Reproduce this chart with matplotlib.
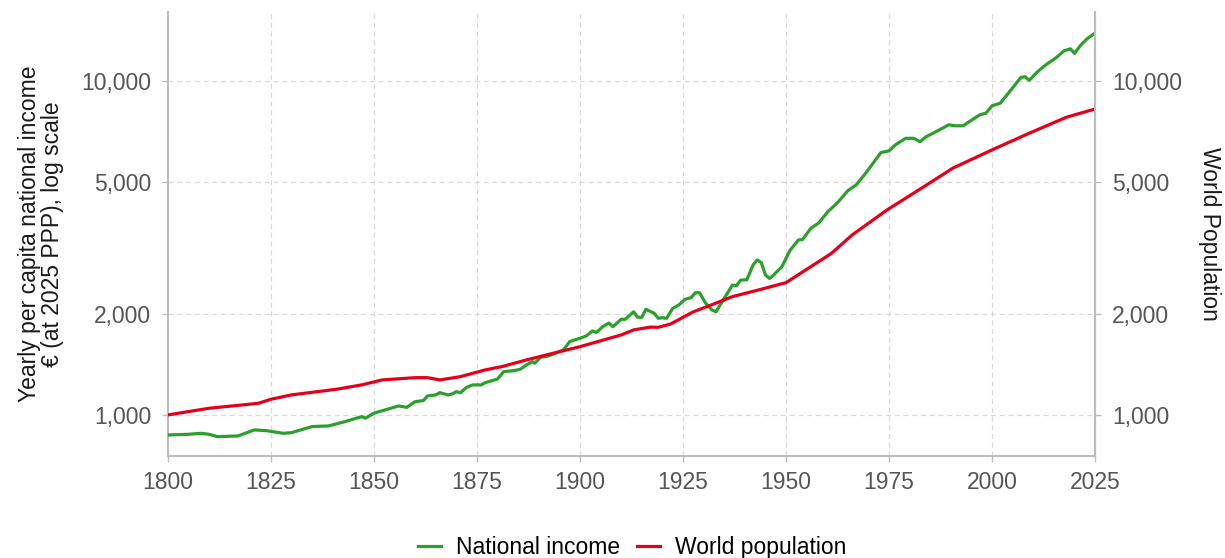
import matplotlib
matplotlib.use("Agg")
import matplotlib.pyplot as plt
from matplotlib.ticker import FuncFormatter, FixedLocator, NullLocator

plt.rcParams['font.family'] = ['Liberation Sans', 'DejaVu Sans']

# national income per capita, euro at 2025 PPP
income_years = [1800, 1805, 1808, 1810, 1812, 1817, 1821, 1824, 1828, 1830, 1835, 1839,
                1843, 1847, 1848, 1850, 1856, 1858, 1860, 1862, 1863, 1865, 1866, 1868,
                1869, 1870, 1871, 1872.5, 1874, 1876, 1877, 1880, 1881.5, 1884, 1885.5,
                1887, 1888.5, 1889, 1890.5, 1892, 1894, 1896, 1897.5, 1900, 1901.5, 1903,
                1904, 1905.5, 1907, 1908, 1910, 1911, 1913, 1914, 1915, 1916, 1918, 1919,
                1920, 1921, 1922.5, 1924, 1925.5, 1927, 1928, 1929, 1930.5, 1932, 1933,
                1935, 1937, 1938, 1939, 1940.5, 1942, 1943, 1944, 1945, 1946, 1947, 1949,
                1951, 1953, 1954, 1956, 1958, 1960, 1962.5, 1965, 1967, 1969, 1971, 1973,
                1975, 1976.5, 1979, 1981, 1982.5, 1984, 1986.5, 1989.5, 1991, 1993, 1994.5,
                1997, 1998.5, 2000, 2002, 2003, 2005, 2007, 2008, 2009, 2011, 2013, 2015.5,
                2017.5, 2019, 2020, 2021.5, 2023, 2025]
income = [871, 875, 881, 875, 861, 865, 902, 897, 881, 885, 923, 927,
          955, 988, 978, 1012, 1064, 1054, 1096, 1104, 1140, 1148, 1166, 1148,
          1156, 1174, 1166, 1210, 1230, 1230, 1249, 1281, 1348, 1357, 1370,
          1411, 1444, 1428, 1489, 1496, 1530, 1565, 1658, 1697, 1723, 1784,
          1766, 1837, 1885, 1837, 1934, 1934, 2036, 1962, 1960, 2071, 2016, 1947,
          1955, 1947, 2085, 2135, 2220, 2246, 2322, 2322, 2160, 2063, 2036,
          2236, 2449, 2440, 2534, 2540, 2812, 2912, 2859, 2625, 2563, 2625, 2780,
          3116, 3342, 3350, 3619, 3764, 4043, 4323, 4694, 4882, 5235, 5647, 6103,
          6176, 6435, 6734, 6734, 6578, 6812, 7060, 7394, 7342, 7342, 7561,
          7918, 8010, 8427, 8586, 8894, 9548, 10250, 10300, 10043, 10650, 11170, 11730,
          12320, 12480, 12100, 12800, 13360, 13930]

# world population, millions
pop_years = [1800, 1810, 1818, 1822, 1825, 1830, 1841, 1847, 1852, 1860, 1863, 1866,
             1871, 1877, 1881, 1887, 1893.5, 1900, 1910, 1913, 1917, 1919, 1922,
             1927.5, 1932.5, 1937, 1944, 1950, 1953.5, 1961, 1966, 1974.5, 1982.5,
             1990.5, 2000, 2009, 2018, 2025]
population = [1000, 1047, 1071, 1084, 1114, 1148, 1194, 1230, 1273, 1293, 1293, 1273,
              1302, 1364, 1395, 1461, 1530, 1601, 1736, 1797, 1832, 1830, 1872,
              2036, 2150, 2261, 2379, 2490, 2655, 3045, 3455, 4110, 4742,
              5485, 6220, 6975, 7786, 8245]

y_ticks = [1000, 2000, 5000, 10000]
x_ticks = [1800, 1825, 1850, 1875, 1900, 1925, 1950, 1975, 2000, 2025]

green = '#2ca02c'
red = '#e4001b'
grid_c = '#d9d9d9'
spine_c = '#bdbdbd'
tick_c = '#555555'
fs = 16.5

fig = plt.figure(figsize=(12.25, 5.58), dpi=100)
ax = fig.add_axes([0.137, 0.183, 0.757, 0.7955])

l1, = ax.plot(income_years, income, color=green, lw=2.3, label='National income', zorder=3)
l2, = ax.plot(pop_years, population, color=red, lw=2.3, label='World population', zorder=3)

ylo, yhi = 754, 16090
ax.set_yscale('log')
ax.set_ylim(ylo, yhi)
ax.set_xlim(1800, 2025)

fmt = FuncFormatter(lambda v, p: f'{int(v):,}')
ax.yaxis.set_major_locator(FixedLocator(y_ticks))
ax.yaxis.set_minor_locator(NullLocator())
ax.yaxis.set_major_formatter(fmt)
ax.set_xticks(x_ticks)

ax.grid(True, color=grid_c, linestyle=(0, (4, 3)), linewidth=0.9)
ax.set_axisbelow(True)

ax.spines['top'].set_visible(False)
for s in ['left', 'right', 'bottom']:
    ax.spines[s].set_color(spine_c)
    ax.spines[s].set_linewidth(1.5)

ax.tick_params(axis='both', colors=spine_c, labelcolor=tick_c, labelsize=fs, length=4, width=1)
ax.tick_params(axis='x', pad=7)
ax.tick_params(axis='y', pad=8)

ax.set_ylabel('Yearly per capita national income\n€ (at 2025 PPP), log scale',
              fontsize=fs, color='#1a1a1a', labelpad=12, linespacing=1.05)

ax2 = ax.twinx()
ax2.set_yscale('log')
ax2.set_ylim(ylo, yhi)
ax2.yaxis.set_major_locator(FixedLocator(y_ticks))
ax2.yaxis.set_minor_locator(NullLocator())
ax2.yaxis.set_major_formatter(fmt)
for s in ['top', 'left', 'bottom']:
    ax2.spines[s].set_visible(False)
ax2.spines['right'].set_color(spine_c)
ax2.spines['right'].set_linewidth(1.5)
ax2.tick_params(axis='y', colors=spine_c, labelcolor=tick_c, labelsize=fs, length=4, width=1, pad=8)
ax2.set_ylabel('World Population', fontsize=fs, color='#1a1a1a', rotation=270, labelpad=28)

fig.legend(handles=[l1, l2], loc='lower center', bbox_to_anchor=(0.516, -0.038), ncol=2,
           frameon=False, fontsize=fs, handlelength=1.0, handletextpad=0.65,
           columnspacing=0.75)

fig.savefig('out.png', dpi=100)
